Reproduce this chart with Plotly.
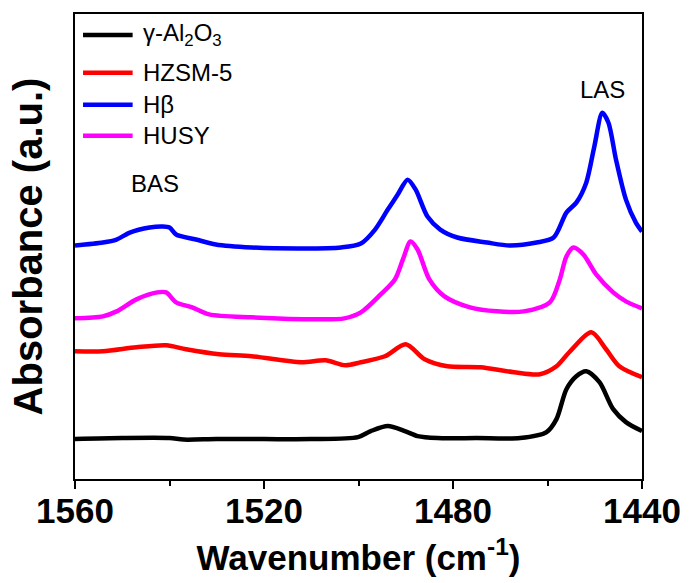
import plotly.graph_objects as go

# ---- data (wavenumber in cm-1, absorbance in arbitrary offset units) ----
al2o3_wn = [1560, 1550, 1540, 1537, 1530, 1520, 1510, 1500.1, 1497.4, 1493.8, 1490.2, 1487.5,
            1483.3, 1475, 1465.8, 1460.2, 1458.1, 1456, 1453.9, 1451.8, 1449, 1446.1, 1443.4, 1440]
al2o3_abs = [40, 41, 41, 39.5, 40, 40, 40, 42, 48, 53, 48, 43,
             41, 41, 41, 47, 60, 90, 103, 108, 97, 70, 57, 48]

hzsm5_wn = [1560, 1554.1, 1547, 1540.7, 1536.5, 1529.5, 1522.6, 1512.1, 1507, 1502.8, 1499.5,
            1494.4, 1490, 1486, 1481.2, 1474.2, 1467.1, 1461.6, 1458.1, 1455.4, 1450.7, 1447.6,
            1444.8, 1440]
hzsm5_abs = [128, 128, 132, 134, 130, 125, 123, 117, 119, 114, 117,
             123, 135, 120, 113, 112, 107, 105, 113, 127, 147, 130,
             113, 102]

hbeta_wn = [1560, 1554.1, 1551.2, 1548.4, 1544.2, 1541.5, 1540, 1538.6, 1534.4, 1530.2, 1522.6,
            1512.1, 1503.7, 1499.5, 1496.5, 1493.8, 1491.7, 1489.6, 1487.9, 1485.4, 1482.7,
            1479.1, 1472.8, 1468, 1462.3, 1458.7, 1456, 1453.9, 1451.8, 1450.1, 1448.4, 1447.1,
            1445.5, 1443.4, 1441.3, 1440]
hbeta_abs = [234, 237, 240, 247, 252, 253, 252, 245, 240, 235, 232,
             231, 232, 236, 250, 270, 285, 300, 290, 263, 250,
             242, 237, 234, 237, 242, 267, 277, 297, 333, 367, 357,
             320, 280, 257, 248]

husy_wn = [1560, 1554.1, 1551.2, 1547, 1542.6, 1540.7, 1538.6, 1535.2, 1531.6, 1522.6, 1507.9,
           1503, 1499.5, 1495.3, 1492.3, 1490.6, 1489, 1487.5, 1485, 1481.8, 1476.4, 1470.7,
           1465, 1459.5, 1457.4, 1456, 1454.5, 1452.4, 1449.7, 1446.1, 1443.4, 1440]
husy_abs = [161, 163, 168, 180, 187, 187, 177, 172, 165, 162, 160,
            161, 167, 185, 200, 220, 238, 230, 200, 183, 172, 168,
            168, 177, 200, 223, 232, 225, 205, 187, 178, 171]

series_names = ["γ-Al<sub>2</sub>O<sub>3</sub>", "HZSM-5", "Hβ", "HUSY"]
series_colors = ["#000000", "#ff0000", "#0000ff", "#ff00ff"]
series_x = [al2o3_wn, hzsm5_wn, hbeta_wn, husy_wn]
series_y = [al2o3_abs, hzsm5_abs, hbeta_abs, husy_abs]

tick_vals = [1560, 1520, 1480, 1440]
peak_labels = ["BAS", "LAS"]

FONT = "Liberation Sans, Arial, sans-serif"

fig = go.Figure()
for name, color, xs, ys in zip(series_names, series_colors, series_x, series_y):
    fig.add_trace(go.Scatter(x=xs, y=ys, mode="lines", name=name,
                             line=dict(color=color, width=4.5, shape="spline", smoothing=0.8),
                             showlegend=False))

# manual legend (50px line samples like the reference)
leg_y = [445, 407, 375, 344]
for name, color, ly in zip(series_names, series_colors, leg_y):
    fig.add_shape(type="line", xref="x", yref="y", x0=1558.3, x1=1547.8, y0=ly, y1=ly,
                  line=dict(color=color, width=4.5))
    fig.add_annotation(x=1546.0, y=ly, xref="x", yref="y", text=name, showarrow=False,
                       xanchor="left", yanchor="middle",
                       font=dict(family=FONT, size=24, color="black"))

# peak annotations
fig.add_annotation(x=1543.0, y=296, xref="x", yref="y", text=peak_labels[0], showarrow=False,
                   font=dict(family=FONT, size=24, color="black"))
fig.add_annotation(x=1448.3, y=390, xref="x", yref="y", text=peak_labels[1], showarrow=False,
                   font=dict(family=FONT, size=24, color="black"))

fig.update_layout(
    width=693, height=583,
    margin=dict(l=75, r=47, t=14, b=103),
    paper_bgcolor="white", plot_bgcolor="white",
    font=dict(family=FONT, color="black"),
)
fig.update_xaxes(
    range=[1560, 1440], tickvals=tick_vals, ticktext=[str(v) for v in tick_vals],
    ticks="outside", ticklen=8, tickwidth=1.5, tickcolor="black",
    minor=dict(dtick=20, ticks="outside", ticklen=5, tickwidth=1.5, tickcolor="black"),
    showline=True, linecolor="black", linewidth=2, mirror=True,
    showgrid=False, zeroline=False,
    ticklabelstandoff=-8,
    tickfont=dict(family=FONT, size=35, color="black", weight="bold"),
    title=dict(text="<b>Wavenumber (cm<sup>-1</sup>)</b>", standoff=16,
               font=dict(family=FONT, size=35, color="black")),
)
fig.update_yaxes(
    range=[0, 466], showticklabels=False, ticks="",
    showline=True, linecolor="black", linewidth=2, mirror=True,
    showgrid=False, zeroline=False,
    title=dict(text="<b>Absorbance (a.u.)</b>", standoff=18,
               font=dict(family=FONT, size=40, color="black")),
)

fig.write_html("out.html")
